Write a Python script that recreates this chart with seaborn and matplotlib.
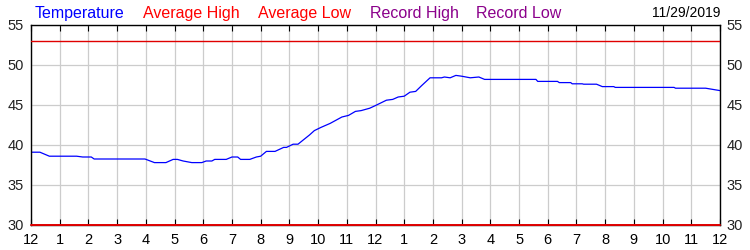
import matplotlib
matplotlib.use("Agg")
import matplotlib.pyplot as plt
import seaborn as sns
import pandas as pd

hours = [0.0, 0.31, 0.64, 1.59, 1.8, 2.1, 2.2, 3.97, 4.3, 4.7, 4.95, 5.1, 5.3, 5.6, 5.95, 6.1, 6.3,
         6.4, 6.8, 7.0, 7.2, 7.3, 7.62, 7.85, 8.0, 8.2, 8.5, 8.8, 8.9, 9.13, 9.3, 9.7, 9.87, 10.1,
         10.42, 10.83, 11.06, 11.3, 11.5, 11.8, 11.98, 12.38, 12.6, 12.79, 13.0, 13.2, 13.4, 13.6,
         13.9, 14.05, 14.3, 14.4, 14.6, 14.8, 15.0, 15.3, 15.6, 15.8, 16.0, 17.59, 17.65, 18.34,
         18.4, 18.8, 18.85, 19.2, 19.25, 19.7, 19.9, 20.3, 20.35, 22.4, 22.45, 23.5, 24.0]
temps = [39.1, 39.1, 38.6, 38.6, 38.5, 38.5, 38.25, 38.25, 37.8, 37.8, 38.2, 38.2, 38.0, 37.8, 37.8,
         38.0, 38.0, 38.2, 38.2, 38.5, 38.5, 38.2, 38.2, 38.5, 38.6, 39.2, 39.2, 39.7, 39.7, 40.1,
         40.1, 41.25, 41.8, 42.2, 42.7, 43.5, 43.7, 44.2, 44.3, 44.6, 44.9, 45.6, 45.7, 46.0, 46.1,
         46.6, 46.7, 47.4, 48.4, 48.4, 48.4, 48.5, 48.4, 48.7, 48.6, 48.4, 48.5, 48.2, 48.2, 48.2,
         47.95, 47.95, 47.8, 47.8, 47.65, 47.65, 47.6, 47.6, 47.3, 47.3, 47.2, 47.2, 47.1, 47.1, 46.8]
avg_high = 53
avg_low = 30
hour_labels = ["12", "1", "2", "3", "4", "5", "6", "7", "8", "9", "10", "11",
               "12", "1", "2", "3", "4", "5", "6", "7", "8", "9", "10", "11", "12"]
y_ticks = [30, 35, 40, 45, 50, 55]
legend_items = [("Temperature", "#0000FF"), ("Average High", "#FF0000"),
                ("Average Low", "#FF0000"), ("Record High", "#8B008B"),
                ("Record Low", "#8B008B")]
date_text = "11/29/2019"

sns.set_style("white")
plt.rcParams["font.family"] = ["Liberation Sans", "DejaVu Sans"]

fig = plt.figure(figsize=(7.5, 2.5), dpi=100)
ax = fig.add_axes([31 / 750, 25 / 250, 689 / 750, 200 / 250])

df = pd.DataFrame({"hour": hours, "temp": temps})
sns.lineplot(data=df, x="hour", y="temp", ax=ax, color="#0000FF", linewidth=0.9)
ax.axhline(avg_high, color="#E00000", linewidth=1.0, zorder=3)
ax.axhline(avg_low, color="#E00000", linewidth=1.4, zorder=3, clip_on=False)

ax.set_xlim(0, 24)
ax.set_ylim(30, 55)
ax.set_xticks(range(25))
ax.set_xticklabels(hour_labels)
ax.set_yticks(y_ticks)
ax.grid(True, color="#CCCCCC", linewidth=0.9)
ax.set_axisbelow(True)
ax.set_xlabel("")
ax.set_ylabel("")
for s in ax.spines.values():
    s.set_color("black")
    s.set_linewidth(1.0)
ax.tick_params(axis="x", direction="in", length=4, top=True, bottom=True,
               labelsize=10.5, pad=6, colors="black")
ax.tick_params(axis="y", direction="in", length=0, left=True, right=True,
               labelleft=True, labelright=True, labelsize=10.5, pad=5, colors="black")
for lbl in ax.get_yticklabels():
    lbl.set_color("#222222")

xs = [35, 143, 258, 370, 476]
for (txt, col), x in zip(legend_items, xs):
    fig.text(x / 750, 1 - 18 / 250, txt, color=col, fontsize=11.5, va="baseline", ha="left")
fig.text(720 / 750, 1 - 17 / 250, date_text, color="black", fontsize=10, va="baseline", ha="right")

fig.savefig("out.png", dpi=100)
